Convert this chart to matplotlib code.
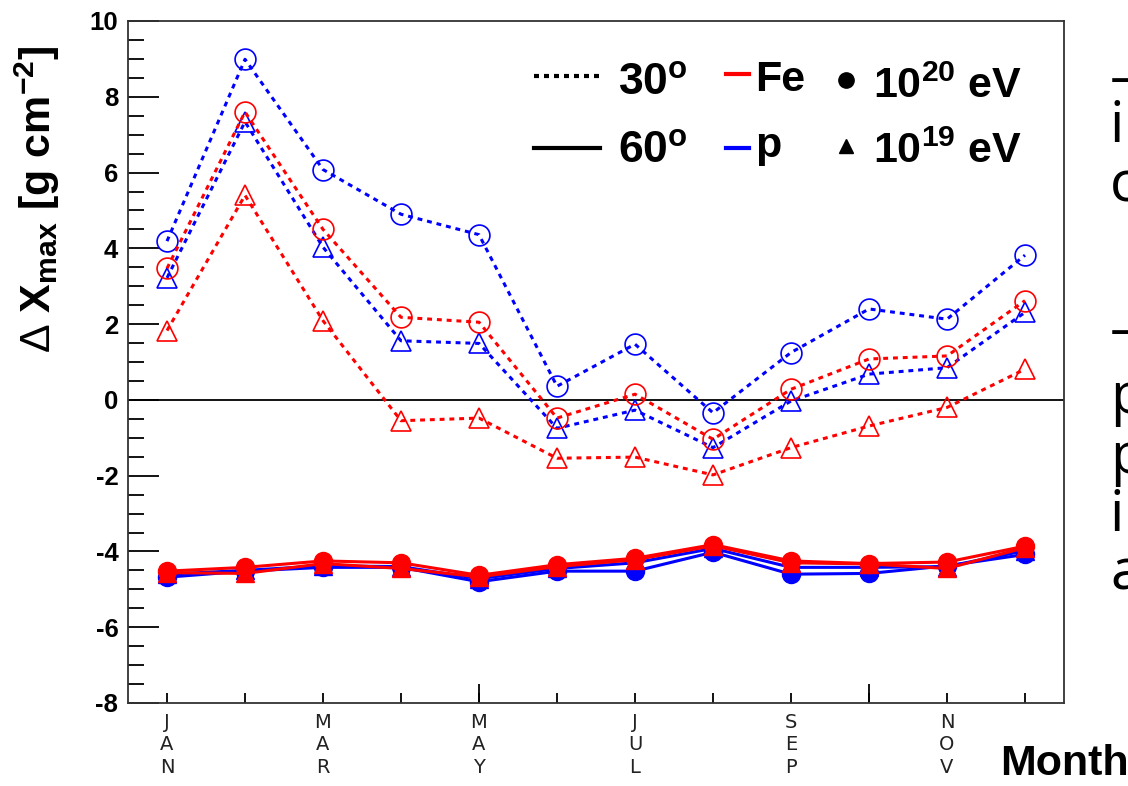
import matplotlib
matplotlib.use("Agg")
import matplotlib.pyplot as plt  # lib for graphs
from matplotlib.lines import Line2D
from matplotlib.ticker import FixedLocator, MultipleLocator
import numpy as np

plt.rcParams['font.family'] = ['Liberation Sans', 'DejaVu Sans']
plt.rcParams['mathtext.fontset'] = 'custom'
plt.rcParams['mathtext.rm'] = 'Liberation Sans'
plt.rcParams['mathtext.bf'] = 'Liberation Sans:bold'
plt.rcParams['mathtext.it'] = 'Liberation Sans:italic'
plt.rcParams['axes.unicode_minus'] = False

# data: months and Delta Xmax per month
months = ["JAN", "FEB", "MAR", "APR", "MAY", "JUN",
          "JUL", "AUG", "SEP", "OCT", "NOV", "DEC"]
month_idx = np.arange(1, 13)

# zenith 30 deg (dotted)
p20_30 = [4.19, 8.99, 6.08, 4.90, 4.36, 0.36, 1.47, -0.34, 1.25, 2.40, 2.13, 3.82]
fe20_30 = [3.47, 7.60, 4.50, 2.18, 2.05, -0.48, 0.15, -1.04, 0.28, 1.08, 1.16, 2.62]
p19_30 = [3.22, 7.34, 4.03, 1.56, 1.49, -0.75, -0.27, -1.26, -0.03, 0.68, 0.85, 2.31]
fe19_30 = [1.83, 5.40, 2.09, -0.55, -0.48, -1.54, -1.51, -1.98, -1.26, -0.69, -0.20, 0.81]

# zenith 60 deg (solid)
p20_60 = [-4.68, -4.52, -4.42, -4.42, -4.80, -4.52, -4.52, -4.02, -4.60, -4.58, -4.38, -4.08]
p19_60 = [-4.60, -4.50, -4.38, -4.40, -4.72, -4.45, -4.30, -3.92, -4.42, -4.42, -4.40, -3.98]
fe20_60 = [-4.52, -4.42, -4.25, -4.30, -4.63, -4.35, -4.18, -3.82, -4.25, -4.32, -4.28, -3.86]
fe19_60 = [-4.56, -4.58, -4.32, -4.45, -4.67, -4.40, -4.22, -3.85, -4.30, -4.33, -4.45, -3.90]

W, H = 1128, 786
fig = plt.figure(figsize=(W / 100, H / 100), dpi=100)
ax = fig.add_axes([128 / W, 83 / H, 936 / W, 682 / H])


def px(x, y):
    # pixel position -> figure fraction
    return x / W, 1 - y / H


RED = '#ff0000'
BLUE = '#0000ff'
dots = (0, (1.6, 1.6))

# 30 deg, open markers, dotted lines
for vals, col, mk in [(p20_30, BLUE, 'o'), (p19_30, BLUE, '^'),
                      (fe20_30, RED, 'o'), (fe19_30, RED, '^')]:
    ax.plot(month_idx, vals, color=col, ls=dots, lw=2.2, marker=mk, ms=15,
            mfc='none', mec=col, mew=1.2)

# 60 deg, filled markers, solid lines
for vals, col, mk in [(p20_60, BLUE, 'o'), (p19_60, BLUE, '^'),
                      (fe19_60, RED, '^'), (fe20_60, RED, 'o')]:
    ax.plot(month_idx, vals, color=col, ls='-', lw=2.2, marker=mk, ms=13,
            mfc=col, mec=col)

ax.axhline(0, color='black', lw=1.3, zorder=1)

ax.set_xlim(0.5, 12.5)
ax.set_ylim(-8, 10)

# y axis ticks
ax.yaxis.set_major_locator(MultipleLocator(2))
ax.yaxis.set_minor_locator(MultipleLocator(0.5))
ax.tick_params(axis='y', which='major', direction='in', length=22, width=1.3,
               labelsize=18.5, pad=7)
ax.tick_params(axis='y', which='minor', direction='in', length=11.5, width=1.3)
for lab in ax.get_yticklabels():
    lab.set_fontweight('bold')

# x axis ticks: month letters stacked vertically on odd months
xlabels = ['\n'.join(m) if i % 2 == 0 else '' for i, m in enumerate(months)]
ax.set_xticks(month_idx)
ax.set_xticklabels(xlabels, family='DejaVu Sans', fontsize=14, color='#222222',
                   linespacing=1.25, va='top')
ax.xaxis.set_minor_locator(FixedLocator([5, 10]))
ax.xaxis.remove_overlapping_locs = False
ax.tick_params(axis='x', which='major', direction='in', length=7, width=1.3, pad=7)
ax.tick_params(axis='x', which='minor', direction='in', length=14, width=1.3)
ax.tick_params(top=False, right=False, which='both')

for s in ax.spines.values():
    s.set_linewidth(1.3)
    s.set_color('#333333')

# axis titles
fig.text(*px(37, 199), r"$\mathrm{\Delta}\ \mathbf{X}_{\mathbf{max}}\ \mathbf{[g\ cm}^{\mathbf{-2}}\mathbf{]}$",
         rotation=90, fontsize=31, ha='center', va='center')
fig.text(*px(1000, 775), "Month", fontsize=31, fontweight='bold', ha='left', va='baseline')

# legend drawn by hand
fig.add_artist(Line2D([534 / W, 600 / W], [1 - 76 / H, 1 - 76 / H], color='black',
                      lw=3, ls=(0, (1.2, 1.2)), transform=fig.transFigure))
fig.add_artist(Line2D([534 / W, 600 / W], [1 - 148 / H, 1 - 148 / H], color='black',
                      lw=3, transform=fig.transFigure))
fig.text(*px(618, 95), r"30$^{\mathbf{o}}$", fontsize=32, fontweight='bold', va='baseline')
fig.text(*px(618, 163), r"60$^{\mathbf{o}}$", fontsize=32, fontweight='bold', va='baseline')
fig.add_artist(Line2D([726 / W, 749 / W], [1 - 74 / H, 1 - 74 / H], color=RED,
                      lw=3, transform=fig.transFigure))
fig.add_artist(Line2D([726 / W, 749 / W], [1 - 148 / H, 1 - 148 / H], color=BLUE,
                      lw=3, transform=fig.transFigure))
fig.text(*px(755, 91), "Fe", fontsize=31, fontweight='bold', va='baseline')
fig.text(*px(755, 157), "p", fontsize=31, fontweight='bold', va='baseline')
fig.add_artist(Line2D([846 / W], [1 - 80 / H], color='black', marker='o', ms=11,
                      ls='none', transform=fig.transFigure))
fig.add_artist(Line2D([846 / W], [1 - 146 / H], color='black', marker='^', ms=10,
                      ls='none', transform=fig.transFigure))
fig.text(*px(873, 98), r"10$^{\mathbf{20}}$ eV", fontsize=31, fontweight='bold', va='baseline')
fig.text(*px(873, 163), r"10$^{\mathbf{19}}$ eV", fontsize=31, fontweight='bold', va='baseline')

# slide text cut off at the right edge
side = [("–", 95), ("in", 142), ("c", 202), ("–", 347),
        ("p", 413), ("p", 473), ("in", 531), ("a", 590)]
for txt, yb in side:
    fig.text(*px(1110, yb), txt, family='Open Sans', fontsize=41, va='baseline',
             ha='left', color='black')

fig.savefig('out.png', dpi=100)
